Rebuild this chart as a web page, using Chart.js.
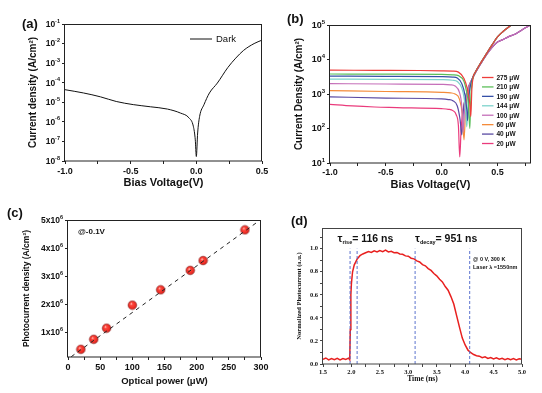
<!DOCTYPE html>
<html>
<head>
<meta charset="utf-8">
<script src="https://cdn.jsdelivr.net/npm/chart.js@4.4.1/dist/chart.umd.min.js"></script>
<style>
  html, body { margin: 0; padding: 0; background: #fff; }
  #wrap { position: relative; width: 542px; height: 393px; overflow: hidden; background: #fff; }
  #wrap canvas { position: absolute; }
  .tag { position: absolute; font: bold 13px "Liberation Sans", Arial, sans-serif; line-height: 13px; color: #111; }
</style>
</head>
<body>
<div id="wrap">
  <canvas id="chartA" width="271" height="196" style="left:0;top:0"></canvas>
  <canvas id="chartB" width="271" height="196" style="left:271px;top:0"></canvas>
  <canvas id="chartC" width="271" height="197" style="left:0;top:196px"></canvas>
  <canvas id="chartD" width="271" height="197" style="left:271px;top:196px"></canvas>
  <div class="tag" style="left:22px;top:17px">(a)</div>
  <div class="tag" style="left:287px;top:12px">(b)</div>
  <div class="tag" style="left:7px;top:206px">(c)</div>
  <div class="tag" style="left:291px;top:214px">(d)</div>
</div>
<script>
const SANS = '"Liberation Sans", Arial, sans-serif';
const SERIF = '"Liberation Serif", "Times New Roman", serif';

// ---- (a) dark J-V ----
const aVolt = [-1.0, -0.86, -0.73, -0.61, -0.48, -0.35, -0.22, -0.12, -0.056, -0.023, -0.008, 0, 0.01, 0.025, 0.058, 0.1, 0.16, 0.24, 0.3, 0.36, 0.44, 0.5];
const aDark = [4.4e-5, 3.0e-5, 1.9e-5, 1.1e-5, 7.6e-6, 5.9e-6, 4.5e-6, 2.8e-6, 1.6e-6, 6e-7, 1.2e-7, 1.7e-8, 2.7e-7, 1.9e-6, 7.5e-6, 3e-5, 9.6e-5, 6e-4, 1.8e-3, 4.5e-3, 1.0e-2, 1.5e-2];
const aXTicks = [-1, -0.75, -0.5, -0.25, 0, 0.25, 0.5];
const aXLabels = ['-1.0', '', '-0.5', '', '0.0', '', '0.5'];
const aYTicks = [1e-8, 1e-7, 1e-6, 1e-5, 1e-4, 1e-3, 1e-2, 1e-1];
const aYBase = ['10', '10', '10', '10', '10', '10', '10', '10'];
const aYExp = ['-8', '-7', '-6', '-5', '-4', '-3', '-2', '-1'];

// ---- (b) J-V under illumination ----
const bLabels = ['275 μW', '210 μW', '190 μW', '144 μW', '100 μW', '60 μW', '40 μW', '20 μW'];
const bColors = ['#ee3d3a', '#5cbf5a', '#3550a8', '#7ed3cc', '#c56fb9', '#f48b3a', '#5a4aa3', '#ea3b7c'];
const b275V = [-1, -0.6, -0.2, 0, 0.1, 0.15, 0.2, 0.23, 0.25, 0.261, 0.27, 0.28];
const b275J = [4900, 4850, 4800, 4700, 4600, 4300, 2800, 1400, 600, 220, 1300, 2900];
const b210V = [-1, -0.5, 0, 0.1, 0.15, 0.2, 0.22, 0.24, 0.252, 0.262, 0.28];
const b210J = [3800, 3750, 3700, 3600, 3400, 2300, 1300, 500, 100, 900, 2900];
const b190V = [-1, -0.5, 0, 0.1, 0.14, 0.18, 0.21, 0.225, 0.232, 0.245, 0.27];
const b190J = [3300, 3250, 3200, 3100, 2900, 2000, 900, 350, 170, 900, 2500];
const b144V = [-1, -0.5, 0, 0.1, 0.14, 0.18, 0.2, 0.215, 0.225, 0.24, 0.27];
const b144J = [2700, 2650, 2600, 2500, 2300, 1500, 800, 300, 112, 700, 2400];
const b100V = [-1, -0.5, 0, 0.08, 0.12, 0.16, 0.18, 0.192, 0.205, 0.24, 0.27];
const b100J = [2000, 1950, 1900, 1850, 1700, 1100, 450, 80, 350, 1500, 2600];
const b60V = [-1, -0.5, 0, 0.08, 0.12, 0.16, 0.185, 0.2, 0.215, 0.25, 0.28];
const b60J = [1260, 1180, 1120, 1080, 1000, 700, 250, 47, 400, 1800, 3000];
const b40V = [-1, -0.5, 0, 0.06, 0.1, 0.14, 0.165, 0.18, 0.195, 0.23, 0.27];
const b40J = [830, 760, 720, 690, 640, 450, 180, 65, 350, 1300, 2600];
const b20V = [-1, -0.8, -0.6, -0.4, 0, 0.06, 0.1, 0.13, 0.15, 0.162, 0.175, 0.2, 0.24, 0.27];
const b20J = [500, 450, 420, 405, 375, 360, 330, 250, 120, 15, 110, 500, 1300, 2500];
// shared forward branches
const bFastV = [0.3, 0.35, 0.4, 0.45, 0.5, 0.55, 0.6, 0.63, 0.66];
const bFastJ = [4200, 8000, 14500, 26000, 45000, 65000, 87000, 105000, 130000];
const bSlowV = [0.3, 0.35, 0.4, 0.45, 0.5, 0.55, 0.6, 0.65, 0.7, 0.75, 0.8];
const bSlowJ = [4000, 7500, 13500, 22000, 32000, 38000, 46000, 53000, 66000, 83000, 102000];
const bXTicks = [-1, -0.75, -0.5, -0.25, 0, 0.25, 0.5, 0.75];
const bXLabels = ['-1.0', '', '-0.5', '', '0.0', '', '0.5', ''];
const bYTicks = [10, 100, 1000, 10000, 100000];
const bYBase = ['10', '10', '10', '10', '10'];
const bYExp = ['1', '2', '3', '4', '5'];

// ---- (c) photocurrent vs power ----
const cPower = [20, 40, 60, 100, 144, 190, 210, 275];
const cJph = [0.405e6, 0.76e6, 1.155e6, 1.976e6, 2.52e6, 3.21e6, 3.56e6, 4.65e6];
const cFitX = [5, 300];
const cFitY = [0.14e6, 5.02e6];
const cXTicks = [0, 25, 50, 75, 100, 125, 150, 175, 200, 225, 250, 275, 300];
const cXLabels = ['0', '', '50', '', '100', '', '150', '', '200', '', '250', '', '300'];
const cYTicks = [1e6, 2e6, 3e6, 4e6, 5e6];
const cYBase = ['1x10', '2x10', '3x10', '4x10', '5x10'];
const cYExp = ['6', '6', '6', '6', '6'];

// ---- (d) transient response ----
const dTime = [1.50, 1.55, 1.60, 1.65, 1.70, 1.75, 1.80, 1.85, 1.90, 1.95, 1.97, 1.98, 1.99, 2.00, 2.02, 2.05,
  2.10, 2.15, 2.20, 2.25, 2.30, 2.35, 2.40, 2.45, 2.50, 2.55, 2.60, 2.65, 2.70, 2.75, 2.80, 2.85, 2.90, 2.95,
  3.00, 3.05, 3.10, 3.15, 3.20, 3.25, 3.30, 3.35, 3.40, 3.45, 3.50, 3.55, 3.60, 3.65, 3.70, 3.75, 3.80, 3.85,
  3.90, 3.95, 4.00, 4.05, 4.10, 4.15, 4.20, 4.25, 4.30, 4.35, 4.40, 4.45, 4.50, 4.55, 4.60, 4.65, 4.70, 4.75,
  4.80, 4.85, 4.90, 4.95, 5.00];
const dSignal = [0.040, 0.052, 0.035, 0.048, 0.038, 0.050, 0.036, 0.047, 0.039, 0.051, 0.037, 0.30, 0.60, 0.70, 0.80, 0.86,
  0.91, 0.94, 0.955, 0.965, 0.975, 0.968, 0.982, 0.972, 0.985, 0.975, 0.988, 0.972, 0.978, 0.965, 0.968, 0.955, 0.952, 0.938,
  0.935, 0.918, 0.912, 0.895, 0.885, 0.862, 0.852, 0.828, 0.812, 0.785, 0.765, 0.735, 0.712, 0.672, 0.640, 0.585, 0.520, 0.420,
  0.320, 0.225, 0.165, 0.120, 0.098, 0.082, 0.072, 0.068, 0.055, 0.062, 0.048, 0.056, 0.044, 0.053, 0.041, 0.050, 0.038, 0.048,
  0.037, 0.047, 0.036, 0.046, 0.040];
const dMarks = [1.976, 2.1, 3.12, 4.08];
const dMarkTop = 1.0;
const dXTicks = [1.5, 1.75, 2, 2.25, 2.5, 2.75, 3, 3.25, 3.5, 3.75, 4, 4.25, 4.5, 4.75, 5];
const dXLabels = ['1.5', '', '2.0', '', '2.5', '', '3.0', '', '3.5', '', '4.0', '', '4.5', '', '5.0'];
const dYTicks = [0, 0.1, 0.2, 0.3, 0.4, 0.5, 0.6, 0.7, 0.8, 0.9, 1.0, 1.1];
const dYLabels = ['0.0', '', '0.2', '', '0.4', '', '0.6', '', '0.8', '', '1.0', ''];

const pts = (xs, ys) => xs.map((x, i) => ({ x: x, y: ys[i] }));

// box round the plot area
const framePlugin = {
  id: 'frame',
  afterDraw(chart, args, opts) {
    const a = chart.chartArea, ctx = chart.ctx;
    ctx.save();
    ctx.strokeStyle = opts.color || '#222';
    ctx.lineWidth = 1;
    ctx.strokeRect(Math.round(a.left) - 0.5, Math.round(a.top) + 0.5, Math.round(a.right - a.left), Math.round(a.bottom - a.top) - 0.5);
    ctx.restore();
  }
};

// y tick labels with a raised exponent (10^n, Nx10^6)
const powTicksPlugin = {
  id: 'powTicks',
  afterDraw(chart, args, opts) {
    if (!opts.base) return;
    const ctx = chart.ctx, s = chart.scales.y;
    ctx.save();
    ctx.fillStyle = '#111';
    ctx.textBaseline = 'middle';
    s.ticks.forEach((t, i) => {
      const y = s.getPixelForValue(t.value);
      ctx.font = opts.expFont;
      const we = ctx.measureText(opts.exp[i]).width;
      ctx.font = opts.font;
      const wb = ctx.measureText(opts.base[i]).width;
      const xr = s.right - opts.gap;
      ctx.fillText(opts.base[i], xr - we - wb, y + 0.5);
      ctx.font = opts.expFont;
      ctx.fillText(opts.exp[i], xr - we, y - opts.rise);
    });
    ctx.restore();
  }
};

// free text (with sub-parts for subscripts)
const notesPlugin = {
  id: 'notes',
  afterDraw(chart, args, opts) {
    const ctx = chart.ctx;
    (opts.items || []).forEach(it => {
      ctx.save();
      ctx.fillStyle = it.color || '#111';
      ctx.textBaseline = 'alphabetic';
      let x = it.x;
      it.parts.forEach(p => {
        ctx.font = p.font;
        ctx.fillText(p.text, x, it.y + (p.dy || 0));
        x += ctx.measureText(p.text).width;
      });
      ctx.restore();
    });
  }
};

// legend drawn inside the plot
const keyPlugin = {
  id: 'key',
  afterDraw(chart, args, opts) {
    if (!opts.show) return;
    const ctx = chart.ctx;
    let y = opts.y;
    chart.data.datasets.forEach(ds => {
      if (!ds.label) return;
      ctx.save();
      ctx.strokeStyle = ds.borderColor;
      ctx.lineWidth = opts.lineWidth;
      ctx.beginPath();
      ctx.moveTo(opts.x, y);
      ctx.lineTo(opts.x + opts.len, y);
      ctx.stroke();
      ctx.fillStyle = '#111';
      ctx.font = opts.font;
      ctx.textBaseline = 'middle';
      ctx.fillText(ds.label, opts.x + opts.len + opts.gap, y + 0.5);
      ctx.restore();
      y += opts.step;
    });
  }
};

function xAxis(o) {
  return {
    type: 'linear', position: 'bottom', min: o.min, max: o.max,
    afterBuildTicks: s => { s.ticks = o.ticks.map(v => ({ value: v })); },
    afterFit: s => { s.height = o.size; },
    grid: { drawOnChartArea: false, drawTicks: true, tickLength: 3, tickColor: o.color || '#222' },
    border: { display: false },
    ticks: { autoSkip: false, maxRotation: 0, padding: o.tickPad, color: '#111', font: o.tickFont,
      callback: (v, i) => o.labels[i] },
    title: { display: true, text: o.title, color: '#111', font: o.titleFont, padding: { top: 0, bottom: o.titlePad } }
  };
}

function yAxis(o) {
  return {
    type: o.type || 'linear', position: 'left', min: o.min, max: o.max,
    afterBuildTicks: s => { s.ticks = o.ticks.map(v => ({ value: v })); },
    afterFit: s => { s.width = o.size; },
    grid: { drawOnChartArea: false, drawTicks: true, tickLength: 3, tickColor: o.color || '#222' },
    border: { display: false },
    ticks: { autoSkip: false, padding: o.tickPad, color: '#111', font: o.tickFont,
      callback: (v, i) => (o.labels ? o.labels[i] : '') },
    title: { display: true, text: o.title, color: '#111', font: o.titleFont, padding: { top: o.titlePad, bottom: 0 } }
  };
}

function baseOptions(pad, scales, extra) {
  return {
    responsive: false, animation: false, events: [],
    layout: { padding: pad },
    scales: scales,
    elements: { point: { radius: 0 }, line: { borderWidth: 1 } },
    plugins: Object.assign({ legend: { display: false }, tooltip: { enabled: false } }, extra)
  };
}

// ---- (a) ----
new Chart(document.getElementById('chartA'), {
  type: 'line',
  data: { datasets: [{ label: 'Dark', data: pts(aVolt, aDark), borderColor: '#111', borderWidth: 1, cubicInterpolationMode: 'monotone' }] },
  options: baseOptions({ left: 0, top: 24, right: 9, bottom: 0 }, {
    x: xAxis({ min: -1, max: 0.5, ticks: aXTicks, labels: aXLabels, size: 35, tickPad: 2,
      tickFont: { family: SANS, size: 9, weight: 'bold' }, title: 'Bias Voltage(V)',
      titleFont: { family: SANS, size: 11, weight: 'bold' }, titlePad: 6 }),
    y: yAxis({ type: 'logarithmic', min: 1e-8, max: 1e-1, ticks: aYTicks, size: 65, tickPad: 3,
      tickFont: { family: SANS, size: 8, weight: 'bold' }, title: 'Current density (A/cm²)',
      titleFont: { family: SANS, size: 10, weight: 'bold' }, titlePad: 27 })
  }, {
    key: { show: true, x: 190, y: 39, len: 22, gap: 4, step: 10, lineWidth: 1, font: '9.5px ' + SANS },
    powTicks: { base: aYBase, exp: aYExp, font: 'bold 8.5px ' + SANS, expFont: 'bold 5.5px ' + SANS, gap: 5, rise: 3 }
  }),
  plugins: [framePlugin, notesPlugin, keyPlugin, powTicksPlugin]
});

// ---- (b) ----
const bSeries = [
  pts(b275V.concat(bFastV), b275J.concat(bFastJ)),
  pts(b210V.concat(bFastV), b210J.concat(bFastJ)),
  pts(b190V.concat(bFastV), b190J.concat(bFastJ)),
  pts(b144V.concat(bFastV), b144J.concat(bFastJ)),
  pts(b100V.concat(bSlowV), b100J.concat(bSlowJ)),
  pts(b60V.concat(bFastV), b60J.concat(bFastJ)),
  pts(b40V.concat(bSlowV), b40J.concat(bSlowJ)),
  pts(b20V.concat(bSlowV), b20J.concat(bSlowJ))
];
new Chart(document.getElementById('chartB'), {
  type: 'line',
  data: {
    datasets: bSeries.map((d, i) => ({
      label: bLabels[i], data: d, borderColor: bColors[i], borderWidth: 1.2, cubicInterpolationMode: 'monotone'
    }))
  },
  options: baseOptions({ left: 0, top: 25, right: 11, bottom: 0 }, {
    x: xAxis({ min: -1, max: 0.8, ticks: bXTicks, labels: bXLabels, size: 33, tickPad: 1,
      tickFont: { family: SANS, size: 9, weight: 'bold' }, title: 'Bias Voltage(V)',
      titleFont: { family: SANS, size: 11, weight: 'bold' }, titlePad: 4 }),
    y: yAxis({ type: 'logarithmic', min: 10, max: 1e5, ticks: bYTicks, size: 59, tickPad: 2,
      tickFont: { family: SANS, size: 8.5, weight: 'bold' }, title: 'Current Density (A/cm²)',
      titleFont: { family: SANS, size: 10, weight: 'bold' }, titlePad: 22 })
  }, {
    key: { show: true, x: 211, y: 77.5, len: 11.5, gap: 3, step: 9.43, lineWidth: 1.3, font: 'bold 6.5px ' + SANS },
    powTicks: { base: bYBase, exp: bYExp, font: 'bold 9px ' + SANS, expFont: 'bold 6px ' + SANS, gap: 5, rise: 3 }
  }),
  plugins: [framePlugin, notesPlugin, keyPlugin, powTicksPlugin]
});

// ---- (c) ----
function sphere(r) {
  const c = document.createElement('canvas');
  const s = Math.ceil(r * 2) + 2;
  c.width = s; c.height = s;
  const g = c.getContext('2d');
  const m = s / 2;
  const grad = g.createRadialGradient(m - r * 0.3, m - r * 0.35, r * 0.05, m, m, r);
  grad.addColorStop(0, '#ffe2dc');
  grad.addColorStop(0.25, '#ff4a40');
  grad.addColorStop(0.85, '#ec2820');
  grad.addColorStop(1, '#b01410');
  g.fillStyle = grad;
  g.beginPath(); g.arc(m, m, r, 0, Math.PI * 2); g.fill();
  g.strokeStyle = '#7a0d0a'; g.lineWidth = 0.5; g.stroke();
  return c;
}
new Chart(document.getElementById('chartC'), {
  type: 'line',
  data: {
    datasets: [
      { data: pts(cFitX, cFitY), borderColor: '#222', borderWidth: 1, borderDash: [4, 4], pointRadius: 0 },
      { data: pts(cPower, cJph), showLine: false, pointStyle: sphere(4.3), pointRadius: 4.3 }
    ]
  },
  options: baseOptions({ left: 0, top: 24, right: 10, bottom: 0 }, {
    x: xAxis({ min: 0, max: 300, ticks: cXTicks, labels: cXLabels, size: 36, tickPad: 2,
      tickFont: { family: SANS, size: 9, weight: 'bold' }, title: 'Optical power (μW)',
      titleFont: { family: SANS, size: 9.5, weight: 'bold' }, titlePad: 6 }),
    y: yAxis({ min: 0.13e6, max: 5e6, ticks: cYTicks, size: 68, tickPad: 3,
      tickFont: { family: SANS, size: 8, weight: 'bold' }, title: 'Photocurrent density (A/cm²)',
      titleFont: { family: SANS, size: 8.5, weight: 'bold' }, titlePad: 22 })
  }, {
    notes: { items: [{ x: 78, y: 37.5, parts: [{ text: '@-0.1V', font: 'bold 8px ' + SANS }] }] },
    powTicks: { base: cYBase, exp: cYExp, font: 'bold 8.5px ' + SANS, expFont: 'bold 5.5px ' + SANS, gap: 5, rise: 3 }
  }),
  plugins: [framePlugin, notesPlugin, powTicksPlugin]
});

// ---- (d) ----
const dDatasets = dMarks.map(t => ({
  data: pts([t, t], [0, dMarkTop]), borderColor: '#4a63c8', borderWidth: 0.9, borderDash: [3, 2], pointRadius: 0
}));
dDatasets.push({ data: pts(dTime, dSignal), borderColor: '#e8201f', borderWidth: 1.5, pointRadius: 0 });
new Chart(document.getElementById('chartD'), {
  type: 'line',
  data: { datasets: dDatasets },
  options: baseOptions({ left: 0, top: 32, right: 20, bottom: 0 }, {
    x: xAxis({ min: 1.5, max: 5, ticks: dXTicks, labels: dXLabels, size: 29, tickPad: 1, color: '#444',
      tickFont: { family: SERIF, size: 6.5, weight: 'bold' }, title: 'Time (ns)',
      titleFont: { family: SERIF, size: 7.5, weight: 'bold' }, titlePad: 9 }),
    y: yAxis({ min: 0, max: 1.18, ticks: dYTicks, labels: dYLabels, size: 52, tickPad: 2, color: '#444',
      tickFont: { family: SERIF, size: 6.5, weight: 'bold' }, title: 'Normalized Photocurrent (a.u.)',
      titleFont: { family: SERIF, size: 6.5, weight: 'bold' }, titlePad: 24 })
  }, {
    frame: { color: '#444' },
    notes: { items: [
      { x: 66.5, y: 46, parts: [
        { text: 'τ', font: 'bold 11px ' + SANS },
        { text: 'rise', font: 'bold 5.5px ' + SANS, dy: 2 },
        { text: '= 116 ns', font: 'bold 10.5px ' + SANS }] },
      { x: 144, y: 46, parts: [
        { text: 'τ', font: 'bold 11px ' + SANS },
        { text: 'decay', font: 'bold 5.5px ' + SANS, dy: 2 },
        { text: '= 951 ns', font: 'bold 10.5px ' + SANS }] },
      { x: 202, y: 64.5, parts: [{ text: '@ 0 V, 300 K', font: 'bold 5.5px ' + SANS }] },
      { x: 202, y: 73, parts: [{ text: 'Laser λ =1550nm', font: 'bold 5.5px ' + SANS }] }
    ] }
  }),
  plugins: [framePlugin, notesPlugin]
});
</script>
</body>
</html>
